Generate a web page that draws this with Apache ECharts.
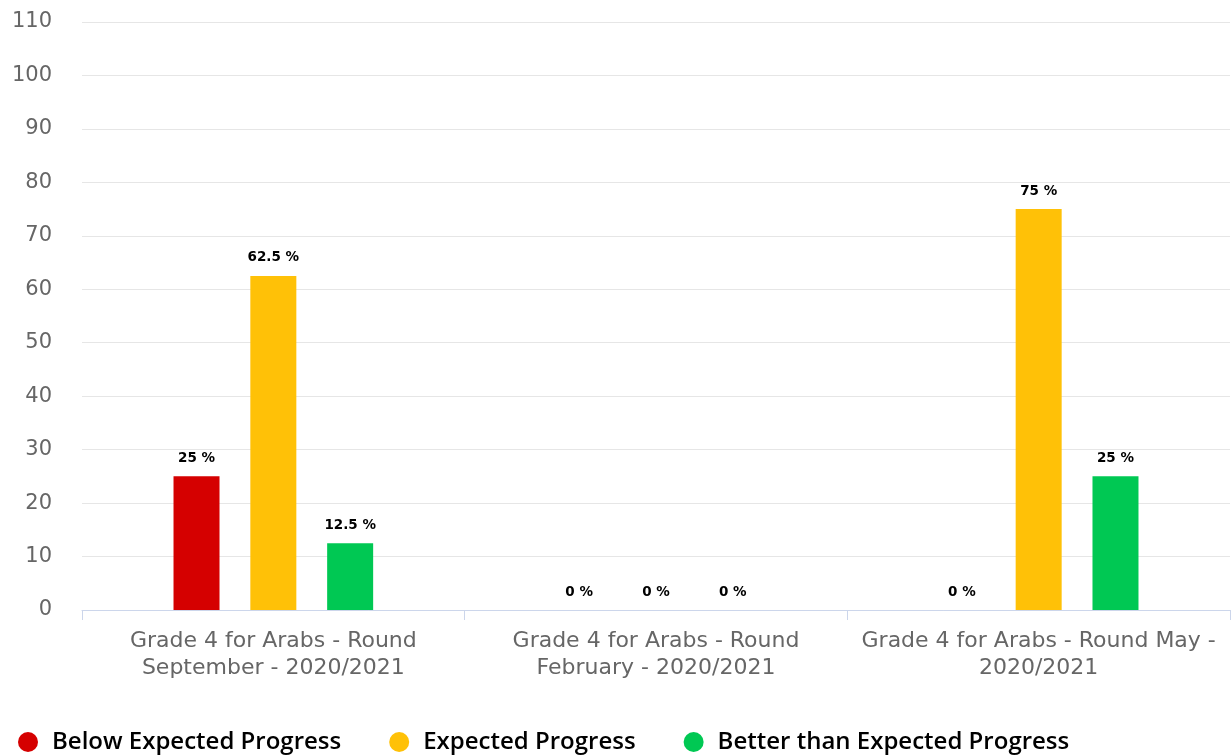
<!DOCTYPE html>
<html><head><meta charset="utf-8">
<script src="https://cdn.jsdelivr.net/npm/echarts@6/dist/echarts.min.js"></script>
<style>html,body{margin:0;padding:0;background:#fff}#c{width:1231px;height:756px}</style>
</head><body><div id="c"></div>
<script>
const categories = ["Grade 4 for Arabs - Round\nSeptember - 2020/2021", "Grade 4 for Arabs - Round\nFebruary - 2020/2021", "Grade 4 for Arabs - Round May -\n2020/2021"];
const seriesNames = ["Below Expected Progress", "Expected Progress", "Better than Expected Progress"];
const belowValues = [25, 0, 0];
const expectedValues = [62.5, 0, 75];
const betterValues = [12.5, 0, 25];
const colors = ["#d50000", "#ffc107", "#00c853"];
const yTicks = { min: 0, max: 110, interval: 10 };

const chart = echarts.init(document.getElementById('c'), null, {renderer: 'canvas'});
const mk = (name, data, color) => ({
  name, type: 'bar', data, barWidth: 46, barGap: '67%',
  itemStyle: { color },
  label: { show: true, position: 'top', distance: 11, formatter: p => p.value + ' %',
    color: '#000', fontFamily: 'DejaVu Sans', fontWeight: 'bold', fontSize: 13.5 }
});
chart.setOption({
  animation: false,
  color: colors,
  grid: { left: 82, right: 1, top: 22, bottom: 146, containLabel: false },
  xAxis: {
    type: 'category', data: categories,
    axisLine: { lineStyle: { color: '#ccd6eb', width: 1 } },
    axisTick: { show: true, length: 10, lineStyle: { color: '#ccd6eb' } },
    axisLabel: { color: '#666', fontFamily: 'DejaVu Sans', fontSize: 22, lineHeight: 27, margin: 18, interval: 0 }
  },
  yAxis: {
    type: 'value', min: yTicks.min, max: yTicks.max, interval: yTicks.interval,
    axisLine: { show: false }, axisTick: { show: false },
    splitLine: { lineStyle: { color: '#e6e6e6', width: 1 } },
    axisLabel: { color: '#666', fontFamily: 'DejaVu Sans', fontSize: 21, margin: 30 }
  },
  legend: {
    data: seriesNames, icon: 'circle', left: 13, top: 725, itemWidth: 20, itemHeight: 20, itemGap: 48,
    textStyle: { color: '#000', fontFamily: 'Open Sans', fontWeight: 600, fontSize: 24, padding: [0,0,0,9] }
  },
  series: [mk(seriesNames[0], belowValues, colors[0]), mk(seriesNames[1], expectedValues, colors[1]), mk(seriesNames[2], betterValues, colors[2])]
});
</script></body></html>
